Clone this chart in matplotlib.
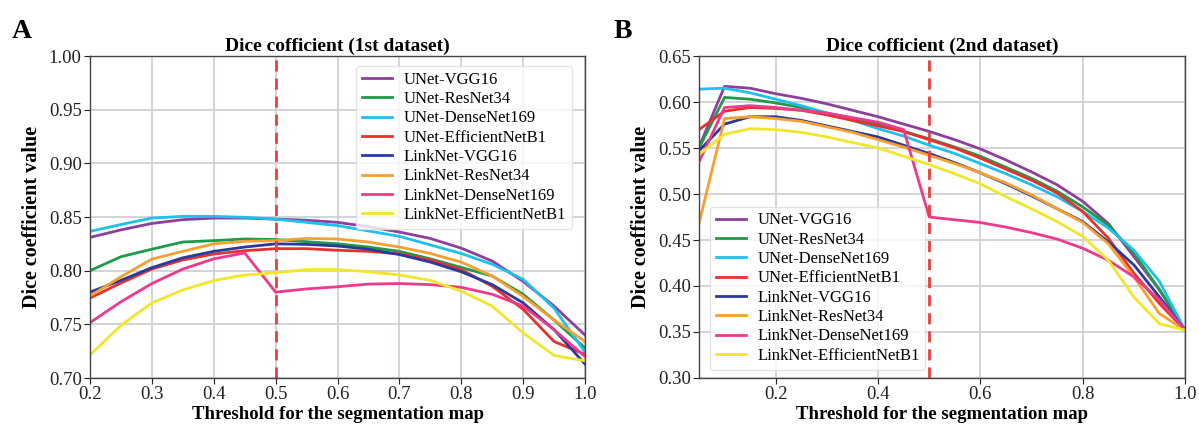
import matplotlib
matplotlib.use("Agg")
import matplotlib.pyplot as plt
import numpy as np

plt.rcParams['font.family'] = ['Liberation Serif', 'DejaVu Serif']

names = ["UNet-VGG16", "UNet-ResNet34", "UNet-DenseNet169", "UNet-EfficientNetB1",
         "LinkNet-VGG16", "LinkNet-ResNet34", "LinkNet-DenseNet169", "LinkNet-EfficientNetB1"]
colors = ["#8e3f9a", "#1f9a48", "#1ec0ee", "#e8312c", "#2a3a9c", "#f5a030", "#ec3a8c", "#f2e62a"]

# Dataset 1
x1 = [0.2, 0.25, 0.3, 0.35, 0.4, 0.45, 0.5, 0.55, 0.6, 0.65, 0.7, 0.75, 0.8, 0.85, 0.9, 0.95, 1.0]
unet_vgg16_1 = [0.831, 0.838, 0.844, 0.8475, 0.849, 0.849, 0.848, 0.847, 0.845, 0.841, 0.836, 0.830, 0.821, 0.809, 0.790, 0.767, 0.740]
unet_resnet34_1 = [0.800, 0.813, 0.820, 0.8267, 0.828, 0.8295, 0.829, 0.827, 0.825, 0.822, 0.818, 0.811, 0.803, 0.795, 0.778, 0.754, 0.728]
unet_densenet169_1 = [0.8366, 0.843, 0.849, 0.8506, 0.8506, 0.8497, 0.848, 0.845, 0.842, 0.837, 0.832, 0.824, 0.816, 0.806, 0.792, 0.765, 0.724]
unet_effb1_1 = [0.7745, 0.7885, 0.8015, 0.810, 0.8155, 0.8186, 0.8205, 0.8205, 0.819, 0.818, 0.8156, 0.810, 0.801, 0.7855, 0.764, 0.734, 0.722]
link_vgg16_1 = [0.780, 0.791, 0.8028, 0.812, 0.818, 0.822, 0.825, 0.8245, 0.823, 0.820, 0.815, 0.808, 0.799, 0.787, 0.770, 0.745, 0.713]
link_resnet34_1 = [0.7764, 0.7943, 0.8108, 0.818, 0.825, 0.8273, 0.828, 0.830, 0.8295, 0.8267, 0.822, 0.816, 0.808, 0.795, 0.776, 0.754, 0.734]
link_densenet169_1 = [0.7516, 0.771, 0.788, 0.8015, 0.811, 0.8165, 0.780, 0.783, 0.785, 0.7875, 0.788, 0.787, 0.7845, 0.778, 0.767, 0.745, 0.720]
link_effb1_1 = [0.7215, 0.749, 0.770, 0.782, 0.7908, 0.796, 0.798, 0.801, 0.801, 0.799, 0.796, 0.791, 0.781, 0.767, 0.742, 0.721, 0.716]

# Dataset 2
x2 = [0.05, 0.1, 0.15, 0.2, 0.25, 0.3, 0.35, 0.4, 0.45, 0.5, 0.55, 0.6, 0.65, 0.7, 0.75, 0.8, 0.85, 0.9, 0.95, 1.0]
unet_vgg16_2 = [0.551, 0.617, 0.615, 0.609, 0.604, 0.598, 0.591, 0.584, 0.576, 0.568, 0.559, 0.549, 0.537, 0.524, 0.510, 0.492, 0.468, 0.432, 0.396, 0.352]
unet_resnet34_2 = [0.550, 0.605, 0.603, 0.599, 0.594, 0.588, 0.582, 0.576, 0.568, 0.560, 0.551, 0.541, 0.529, 0.517, 0.503, 0.486, 0.466, 0.436, 0.396, 0.352]
unet_densenet169_2 = [0.614, 0.615, 0.610, 0.603, 0.596, 0.588, 0.580, 0.571, 0.563, 0.553, 0.544, 0.533, 0.522, 0.510, 0.497, 0.481, 0.463, 0.439, 0.405, 0.352]
unet_effb1_2 = [0.570, 0.590, 0.594, 0.593, 0.591, 0.586, 0.580, 0.574, 0.568, 0.559, 0.550, 0.539, 0.527, 0.515, 0.501, 0.481, 0.452, 0.414, 0.381, 0.352]
link_vgg16_2 = [0.547, 0.576, 0.584, 0.584, 0.580, 0.574, 0.568, 0.562, 0.553, 0.544, 0.534, 0.523, 0.511, 0.498, 0.484, 0.470, 0.448, 0.423, 0.388, 0.352]
link_resnet34_2 = [0.468, 0.582, 0.584, 0.582, 0.579, 0.573, 0.567, 0.559, 0.551, 0.542, 0.533, 0.523, 0.512, 0.499, 0.484, 0.469, 0.446, 0.410, 0.370, 0.352]
link_densenet169_2 = [0.535, 0.594, 0.596, 0.594, 0.591, 0.588, 0.583, 0.578, 0.570, 0.475, 0.472, 0.469, 0.464, 0.458, 0.451, 0.441, 0.428, 0.410, 0.385, 0.352]
link_effb1_2 = [0.543, 0.565, 0.571, 0.570, 0.567, 0.562, 0.556, 0.550, 0.541, 0.532, 0.522, 0.511, 0.497, 0.484, 0.470, 0.454, 0.428, 0.388, 0.359, 0.352]

series1 = [unet_vgg16_1, unet_resnet34_1, unet_densenet169_1, unet_effb1_1,
           link_vgg16_1, link_resnet34_1, link_densenet169_1, link_effb1_1]
series2 = [unet_vgg16_2, unet_resnet34_2, unet_densenet169_2, unet_effb1_2,
           link_vgg16_2, link_resnet34_2, link_densenet169_2, link_effb1_2]

fig = plt.figure(figsize=(11.99, 4.29), dpi=100)
W, H = 1199, 429
ax1 = fig.add_axes([90 / W, 1 - 378 / H, (585 - 90) / W, (378 - 56) / H])
ax2 = fig.add_axes([699 / W, 1 - 378 / H, (1185 - 699) / W, (378 - 56) / H])

grid_color = "#c9cdd6"
for ax, x, series, title in [(ax1, x1, series1, "Dice cofficient (1st dataset)"),
                             (ax2, x2, series2, "Dice cofficient (2nd dataset)")]:
    for ys, c, n in zip(series, colors, names):
        ax.plot(x, ys, color=c, lw=2.0, label=n)
    ax.axvline(0.5, color="#e8403a", lw=2.0, ls=(0, (4, 2.5)))
    ax.grid(True, color=grid_color, lw=1.2)
    ax.set_axisbelow(True)
    for s in ax.spines.values():
        s.set_color("#444444")
        s.set_linewidth(1.0)
    ax.tick_params(labelsize=13.5, colors="#222222", length=4, pad=2)
    ax.set_title(title, fontsize=14, fontweight="bold", pad=4)
    ax.set_xlabel("Threshold for the segmentation map", fontsize=13.5, fontweight="bold", labelpad=2)
    ax.set_ylabel("Dice coefficient value", fontsize=14.5, fontweight="bold", labelpad=5)

ax1.set_xlim(0.2, 1.0)
ax1.set_ylim(0.70, 1.00)
ax1.set_xticks(np.arange(0.2, 1.01, 0.1))
ax1.set_xticklabels([f"{v:.1f}" for v in np.arange(0.2, 1.01, 0.1)])
ax1.set_yticks(np.arange(0.70, 1.001, 0.05))
ax1.set_yticklabels([f"{v:.2f}" for v in np.arange(0.70, 1.001, 0.05)])

ax2.set_xlim(0.05, 1.0)
ax2.set_ylim(0.30, 0.65)
ax2.set_xticks(np.arange(0.2, 1.01, 0.2))
ax2.set_xticklabels([f"{v:.1f}" for v in np.arange(0.2, 1.01, 0.2)])
ax2.set_yticks(np.arange(0.30, 0.651, 0.05))
ax2.set_yticklabels([f"{v:.2f}" for v in np.arange(0.30, 0.651, 0.05)])

leg_kw = dict(fontsize=12, frameon=True, fancybox=True, handlelength=1.8,
              labelspacing=0.2, borderpad=0.35, handletextpad=0.7, edgecolor="#dddddd")
l1 = ax1.legend(loc="upper right", bbox_to_anchor=(0.99, 0.995), **leg_kw)
l2 = ax2.legend(loc="lower left", bbox_to_anchor=(0.005, 0.0), **leg_kw)

fig.text(12 / W, 1 - 38 / H, "A", fontsize=20, fontweight="bold")
fig.text(614 / W, 1 - 38 / H, "B", fontsize=20, fontweight="bold")

fig.savefig("out.png", dpi=100)
